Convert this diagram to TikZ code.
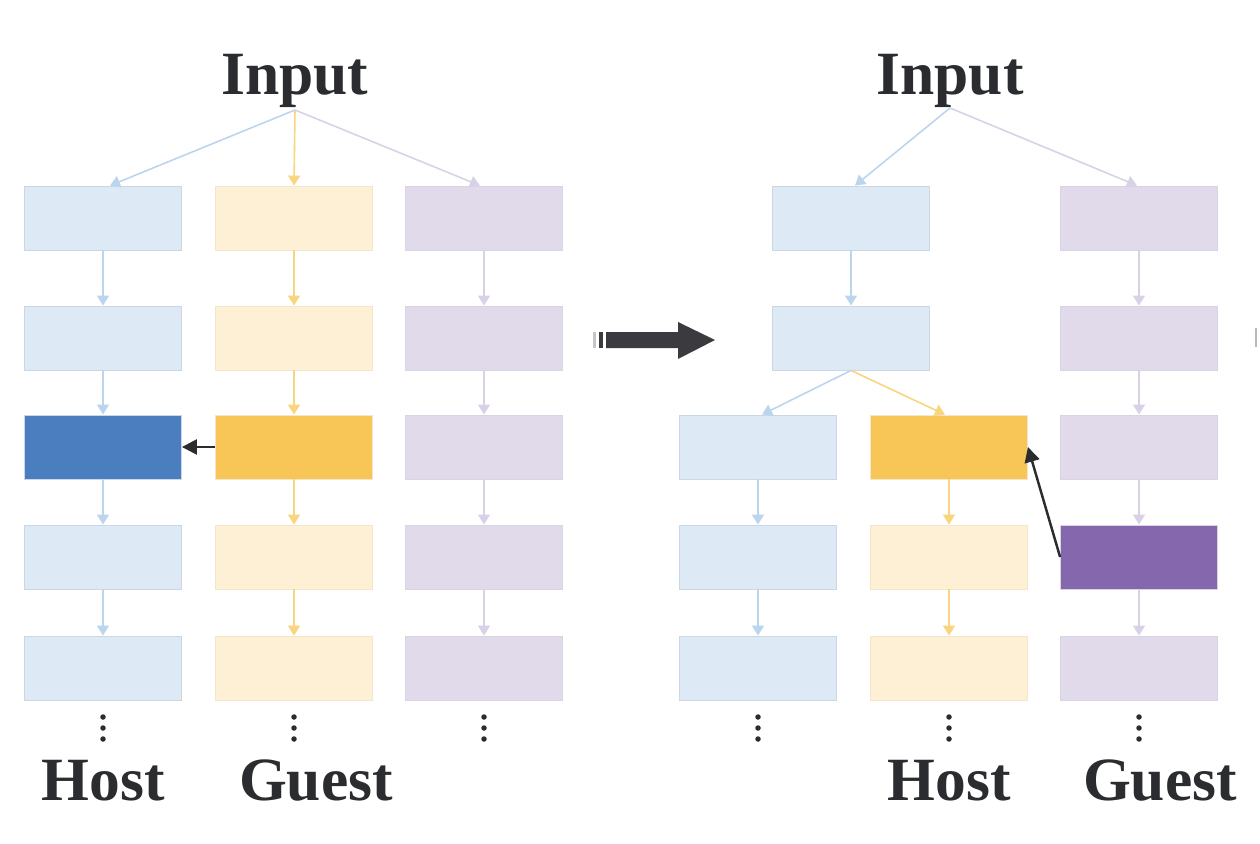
\documentclass[tikz,border=0pt]{standalone}
\usepackage{fontspec}
\setmainfont{Liberation Serif}
\usepackage{xcolor}
\usepackage{tikz}
\usetikzlibrary{arrows.meta}
\usetikzlibrary{positioning}
\usetikzlibrary{calc}
\definecolor{hostlt}{HTML}{DDEAF6}
\definecolor{hostln}{HTML}{CAD8E6}
\definecolor{hostdk}{HTML}{4A7EBF}
\definecolor{hostar}{HTML}{BCD5EE}
\definecolor{gstlt}{HTML}{FDF0D5}
\definecolor{gstln}{HTML}{F3E6CA}
\definecolor{gstdk}{HTML}{F7C656}
\definecolor{gstar}{HTML}{F8D57E}
\definecolor{thdlt}{HTML}{E0DAEA}
\definecolor{thdln}{HTML}{D9D3E3}
\definecolor{thddk}{HTML}{8467AC}
\definecolor{thdar}{HTML}{D9D1E7}
\definecolor{txtgray}{HTML}{2B2C30}
\definecolor{bigarr}{HTML}{3B3B3F}
\tikzset{
  box/.style = {rectangle, minimum width=3.14cm, minimum height=1.28cm,
    inner sep=0pt, line width=0.5pt},
  box_h/.style = {box, fill=hostlt, draw=hostln},% host, light
  box_hd/.style = {box, fill=hostdk, draw=hostln},% host, active
  box_g/.style = {box, fill=gstlt, draw=gstln},% guest, light
  box_gd/.style = {box, fill=gstdk, draw=gstln},% guest, active
  box_p/.style = {box, fill=thdlt, draw=thdln},% third column, light
  box_pd/.style = {box, fill=thddk, draw=thdln},% third column, active
  link/.style = {line width=0.9pt, -{Triangle[length=0.2cm, width=0.24cm]}},
  link_h/.style = {link, draw=hostar, fill=hostar},
  link_g/.style = {link, draw=gstar, fill=gstar},
  link_p/.style = {link, draw=thdar, fill=thdar},
  link_k/.style = {line width=1.4pt, draw=txtgray,
    -{Triangle[length=0.3cm, width=0.3cm]}},
  lbl/.style = {font=\fontsize{35}{40}\selectfont\bfseries, text=txtgray,
    inner sep=0pt, anchor=base}
}

\begin{document}
\begin{tikzpicture}[x=0.02cm, y=-0.02cm]
\useasboundingbox (0,0) rectangle (1260,844);

% left panel
\node[lbl] (in1) at (295,95) {Input};
\coordinate (in1s) at ([yshift=-0.3cm]in1.base);

\foreach \r/\y in {1/218,2/338,4/557,5/668}{
  \node[box_h] (h\r) at (103,\y) {};
  \node[box_g] (g\r) at (294,\y) {};
}
\node[box_hd] (h3) at (103,447) {};
\node[box_gd] (g3) at (294,447) {};
\foreach \r/\y in {1/218,2/338,3/447,4/557,5/668}
  \node[box_p] (p\r) at (484,\y) {};

\draw[link_h] (in1s) -- ([xshift=0.14cm]h1.north);
\draw[link_g] (in1s) -- (g1.north);
\draw[link_p] (in1s) -- ([xshift=-0.08cm]p1.north);
\foreach \a/\b in {1/2,2/3,3/4,4/5}{
  \draw[link_h] (h\a) -- (h\b);
  \draw[link_g] (g\a) -- (g\b);
  \draw[link_p] (p\a) -- (p\b);
}
\draw[link_k] (g3) -- (h3);

\node[lbl] (host1) at (103,800) {Host};
\node[lbl] (guest1) at (316,800) {Guest};

% big arrow
\fill[bigarr] (606,332) -- (678,332) -- (678,322) -- (715,340)
  -- (678,359) -- (678,348) -- (606,348) -- cycle;
\fill[gray!45] (593,332) rectangle (596,348);
\fill[bigarr] (599,332) rectangle (603,348);
\fill[gray!55] (1255,328) rectangle (1257,347);

% right panel
\node[lbl] (in2) at (950,95) {Input};
\coordinate (in2s) at ([yshift=-0.26cm]in2.base);

\node[box_h] (ra1) at (851,218) {};
\node[box_h] (ra2) at (851,338) {};
\node[box_h] (rb3) at (758,447) {};
\node[box_gd] (rc3) at (949,447) {};
\foreach \r/\y in {4/557,5/668}{
  \node[box_h] (rb\r) at (758,\y) {};
  \node[box_g] (rc\r) at (949,\y) {};
}
\foreach \r/\y in {1/218,2/338,3/447,5/668}
  \node[box_p] (rd\r) at (1139,\y) {};
\node[box_pd] (rd4) at (1139,557) {};

\draw[link_h] (in2s) -- ([xshift=0.08cm]ra1.north);
\draw[link_p] (in2s) -- ([xshift=-0.04cm]rd1.north);
\draw[link_h] (ra1) -- (ra2);
\draw[link_h] (ra2.south) -- ([xshift=0.08cm]rb3.north);
\draw[link_g] (ra2.south) -- ([xshift=-0.08cm]rc3.north);
\foreach \a/\b in {3/4,4/5}{
  \draw[link_h] (rb\a) -- (rb\b);
  \draw[link_g] (rc\a) -- (rc\b);
}
\foreach \a/\b in {1/2,2/3,3/4,4/5}
  \draw[link_p] (rd\a) -- (rd\b);
\draw[link_k] (rd4.west) -- (rc3.east);

\node[lbl] (host2) at (949,800) {Host};
\node[lbl] (guest2) at (1160,800) {Guest};

% vertical dots
\foreach \x in {103,294,484,758,949,1139}
  \foreach \y in {717,728,739}
    \fill[txtgray] (\x,\y) circle (0.055cm);
\end{tikzpicture}
\end{document}
